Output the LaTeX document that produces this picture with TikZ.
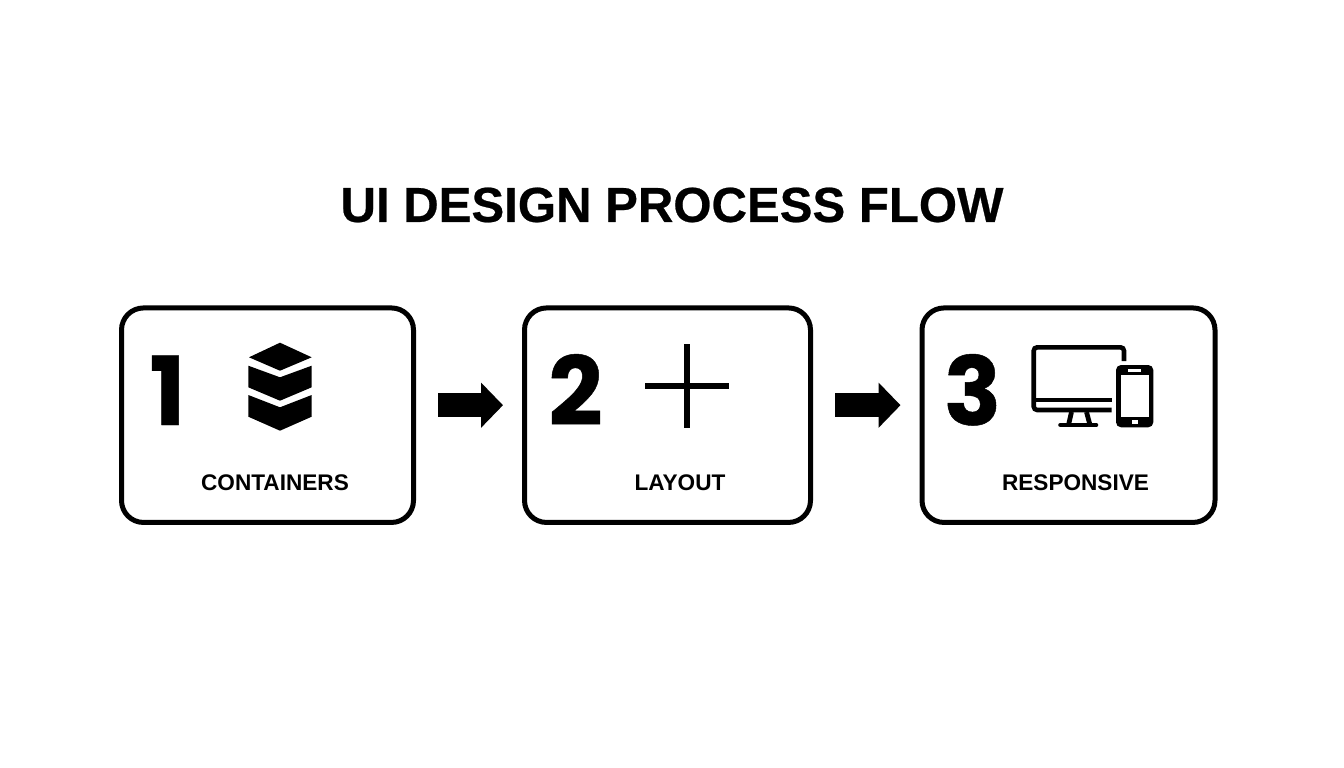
\documentclass[tikz,border=0pt]{standalone}
\usepackage{fontspec}
\setmainfont{Liberation Sans}[BoldFont=Liberation Sans Bold]
\newfontfamily\digitfont{Poppins}[FakeBold=0.5]
\newfontfamily\titlefont{Liberation Sans Bold}[FakeBold=0.5]
\usetikzlibrary{arrows.meta}
\tikzset{
  x=1pt,y=-1pt,
  stepbox/.style={draw=black,line width=5pt,rounded corners=22pt,fill=white,inner sep=0pt,outer sep=0pt,minimum height=214.5pt},
  flowarrow/.style={line width=24pt,-{Triangle[width=44pt,length=22pt]},shorten <=24.5pt,shorten >=21.5pt},
  title/.style={font=\titlefont\fontsize{49.1}{50}\selectfont,inner sep=0pt},
  label/.style={font=\bfseries\fontsize{22.6}{24}\selectfont,inner sep=0pt},
  digit/.style={font=\digitfont\bfseries\fontsize{95}{95}\selectfont,inner sep=0pt,anchor=base},
  iconline/.style={line width=4.6pt,line cap=butt},
}
\begin{document}
\begin{tikzpicture}
\useasboundingbox (0,0) rectangle (1344,768);
\fill[white] (0,0) rectangle (1344,768);
\node[title] (t) at (672,205) {UI DESIGN PROCESS FLOW};
\node[stepbox,minimum width=292pt] (b1) at (267.5,415.2) {};
\node[stepbox,minimum width=286pt] (b2) at (667.5,415.2) {};
\node[stepbox,minimum width=293pt] (b3) at (1068.5,415.2) {};
\draw[flowarrow] ([yshift=10pt]b1.east) -- ([yshift=10pt]b2.west);
\draw[flowarrow] ([yshift=10pt]b2.east) -- ([yshift=10pt]b3.west);
\node[digit] (d1) at (167.5,425) {1};
\node[digit] (d2) at (575.5,425) {2};
\node[digit] (d3) at (972.5,425) {3};
\node[label] (l1) at (275,483) {CONTAINERS};
\node[label] (l2) at (680,483) {LAYOUT};
\node[label] (l3) at (1075.5,483) {RESPONSIVE};
% stack icon
\fill (280,342.7) -- (311.7,357.3) -- (280,370.7) -- (249,357.3) -- cycle;
\fill (248.3,365.7) -- (280,377.3) -- (311.7,365.7) -- (311.7,387.3) -- (280,400.7) -- (248.3,387.3) -- cycle;
\fill (248.3,395) -- (280,407.3) -- (311.7,395) -- (311.7,416.7) -- (280,430.7) -- (248.3,416.7) -- cycle;
% cross icon
\fill (684,344) rectangle (689.7,428);
\fill (645,383.3) rectangle (729,389.3);
% monitor
\draw[iconline,rounded corners=3.5pt] (1124,361) -- (1124,347.3) -- (1033.7,347.3) -- (1033.7,410) -- (1111.7,410);
\draw[iconline] (1033.7,400) -- (1111.7,400);
\draw[line width=4.6pt,line cap=round] (1060.5,425) -- (1096,425);
\draw[line width=4.8pt] (1071.5,412) -- (1068.5,425);
\draw[line width=4.8pt] (1086.5,412) -- (1090,425);
% phone
\fill[rounded corners=5pt] (1116,365) rectangle (1153.3,427.3);
\fill[white] (1121,375) rectangle (1149,416.7);
\fill[white] (1128.3,369) rectangle (1140.7,371.5);
\fill[white] (1131.7,420.3) rectangle (1138.3,423.7);
\end{tikzpicture}
\end{document}
